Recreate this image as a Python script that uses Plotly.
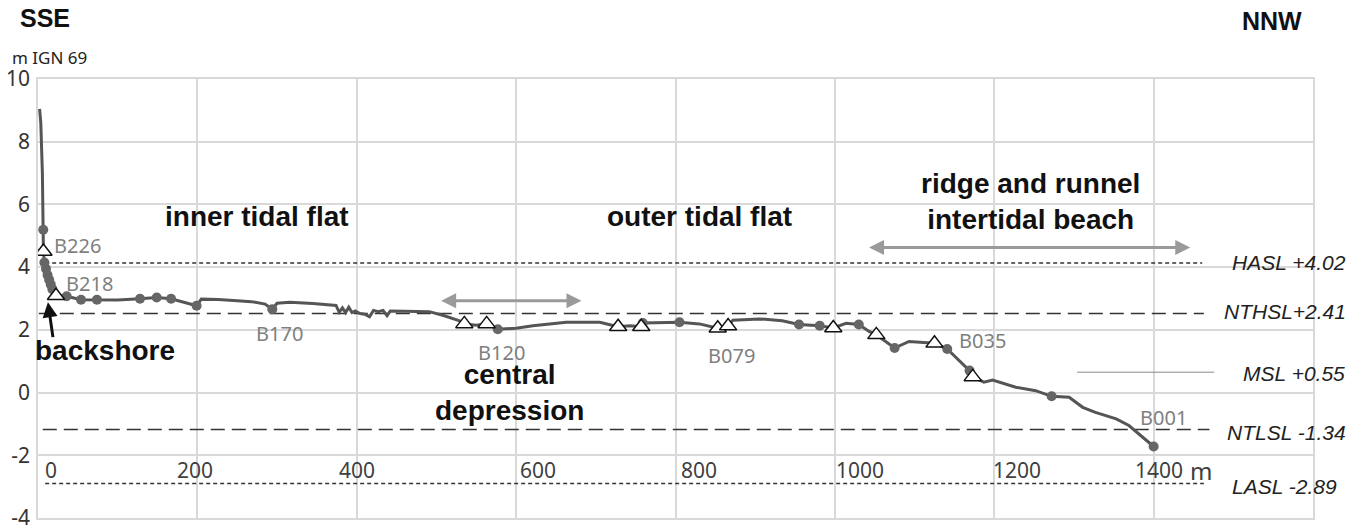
import plotly.graph_objects as go

# ---- data ----
profile_x = [2, 3.5, 5.5, 6.6, 6.8, 8, 10, 12, 14, 16, 18, 20, 22.6, 36, 54, 74, 100, 128, 149, 167,
             185, 199, 205, 226, 250, 268, 285, 294, 300, 316, 345, 374, 378, 382, 386, 390, 394, 398,
             404, 410, 416, 421, 427, 433, 438, 442, 460, 491, 510, 529, 535, 550, 563, 577, 600, 621,
             663, 705, 728, 743, 757, 759, 805, 830, 853, 862, 866, 872, 905, 934, 955, 981, 998, 1014,
             1030, 1043, 1052, 1075, 1093, 1110, 1125, 1141, 1155, 1169, 1173, 1187, 1198, 1227, 1252,
             1272, 1294, 1311, 1327, 1353, 1369, 1382, 1400]
profile_y = [9.05, 8.6, 7.0, 5.19, 4.5, 4.15, 3.95, 3.75, 3.6, 3.45, 3.3, 3.18, 3.09, 3.07, 2.96, 2.96,
             2.95, 2.99, 3.03, 2.99, 2.88, 2.77, 2.98, 2.97, 2.93, 2.9, 2.82, 2.66, 2.85, 2.88, 2.84, 2.78,
             2.56, 2.7, 2.55, 2.72, 2.55, 2.6, 2.52, 2.5, 2.42, 2.62, 2.58, 2.62, 2.45, 2.6, 2.59, 2.58,
             2.45, 2.29, 2.19, 2.15, 2.19, 2.02, 2.05, 2.13, 2.24, 2.24, 2.1, 2.13, 2.1, 2.22, 2.24, 2.19,
             2.05, 2.05, 2.12, 2.31, 2.35, 2.29, 2.17, 2.13, 2.06, 2.21, 2.17, 1.95, 1.84, 1.42, 1.63,
             1.6, 1.57, 1.39, 1.05, 0.7, 0.5, 0.33, 0.4, 0.17, 0.06, -0.12, -0.15, -0.47, -0.63, -0.84,
             -1.05, -1.32, -1.72]

circle_x = [6.6, 8, 10, 12, 14, 16, 18, 36, 54, 74, 128, 149, 167, 199, 294, 577, 759, 805, 955, 981,
            1030, 1075, 1141, 1169, 1272, 1400]
circle_y = [5.19, 4.15, 3.95, 3.75, 3.6, 3.45, 3.3, 3.07, 2.96, 2.96, 2.99, 3.03, 2.99, 2.77, 2.66, 2.02,
            2.22, 2.24, 2.17, 2.13, 2.17, 1.42, 1.39, 0.7, -0.12, -1.72]

triangle_x = [6.8, 22.6, 535, 563, 728, 757, 853, 866, 998, 1052, 1125, 1173]
triangle_y = [4.5, 3.09, 2.19, 2.19, 2.1, 2.1, 2.05, 2.12, 2.06, 1.84, 1.57, 0.5]

station_names = ["B226", "B218", "B170", "B120", "B079", "B035", "B001"]
station_lx = [50, 64, 303, 582, 870, 1185, 1412]
station_ly = [4.68, 3.47, 1.88, 1.27, 1.18, 1.66, -0.8]

level_names = ["HASL +4.02", "NTHSL+2.41", "MSL +0.55", "NTLSL -1.34", "LASL -2.89"]
level_y = [4.13, 2.52, 0.65, -1.18, -2.9]
level_x0 = [9, 1, 1304, 6, 9]
level_x1 = [1461, 1463, 1476, 1470, 1463]
level_dash = ["4px,3px", "14px,7px", "solid", "14px,7px", "4px,3px"]
level_label_y = [4.16, 2.6, 0.62, -1.26, -2.98]
level_label_px = [1.0275, 1.0275, 1.027, 1.0275, 1.0205]

ytick_vals = [-4, -2, 0, 2, 4, 6, 8, 10]
ytick_text = ["-4", "-2", "0", "2", "4", "6", "8", "10"]

xtick_vals = [0, 200, 400, 600, 800, 1000, 1200, 1400]
xtick_pos = [16, 197, 400, 627, 830, 1031, 1229, 1407]
xtick_y = -2.48

zone_texts = ["inner tidal flat", "outer tidal flat", "ridge and runnel<br>intertidal beach",
              "backshore", "central<br>depression"]
zone_x = [275, 830, 1246, 84, 592]
zone_y = [5.6, 5.6, 6.1, 1.34, 0.0]

# ---- figure ----
fig = go.Figure()

for name, y, x0, x1, d in zip(level_names, level_y, level_x0, level_x1, level_dash):
    solid = d == "solid"
    fig.add_trace(go.Scatter(
        x=[x0, x1], y=[y, y], mode="lines",
        line=dict(color="#8a8a8a" if solid else "#333333", width=1 if solid else 1.4, dash=d),
        hoverinfo="skip", showlegend=False))

fig.add_trace(go.Scatter(x=profile_x, y=profile_y, mode="lines",
                         line=dict(color="#555555", width=3), showlegend=False))
fig.add_trace(go.Scatter(x=circle_x, y=circle_y, mode="markers",
                         marker=dict(symbol="circle", size=10, color="#666666"), showlegend=False))
fig.add_trace(go.Scatter(x=triangle_x, y=triangle_y, mode="markers",
                         marker=dict(symbol="triangle-up", size=15, color="white",
                                     line=dict(color="#111111", width=1.5)), showlegend=False))

ann = []
for t, x, y in zip(station_names, station_lx, station_ly):
    ann.append(dict(x=x, y=y, xref="x", yref="y", text=t, showarrow=False, yanchor="middle",
                    font=dict(family="Noto Sans", size=20, color="#7f7f7f")))
for t, x, y in zip(zone_texts, zone_x, zone_y):
    ann.append(dict(x=x, y=y, xref="x", yref="y", text="<b>" + t + "</b>", showarrow=False,
                    yanchor="middle",
                    font=dict(family="Liberation Sans", size=28, color="#111111")))
for t, y, px in zip(level_names, level_label_y, level_label_px):
    ann.append(dict(x=px, y=y, xref="paper", yref="y", text="<i>" + t + "</i>", showarrow=False,
                    xanchor="right", yanchor="middle",
                    font=dict(family="Liberation Sans", size=21, color="#222222")))
for v, x in zip(xtick_vals, xtick_pos):
    ann.append(dict(x=x, y=xtick_y, xref="x", yref="y", text=str(v), showarrow=False,
                    yanchor="middle",
                    font=dict(family="Noto Sans", size=21, color="#404040")))
ann.append(dict(x=1460, y=xtick_y, xref="x", yref="y", text="m", showarrow=False, yanchor="middle",
                font=dict(family="Noto Sans", size=24, color="#404040")))

# arrows
ann.append(dict(x=682, y=2.93, ax=504, ay=2.93, xref="x", yref="y", axref="x", ayref="y",
                text="", showarrow=True, arrowside="end+start", arrowhead=2, arrowsize=1,
                arrowwidth=3, arrowcolor="#9a9a9a"))
ann.append(dict(x=1446, y=4.63, ax=1041, ay=4.63, xref="x", yref="y", axref="x", ayref="y",
                text="", showarrow=True, arrowside="end+start", arrowhead=2, arrowsize=1,
                arrowwidth=3, arrowcolor="#9a9a9a"))
ann.append(dict(x=12.5, y=2.88, ax=19, ay=1.72, xref="x", yref="y", axref="x", ayref="y",
                text="", showarrow=True, arrowhead=2, arrowsize=1, arrowwidth=3,
                arrowcolor="#111111"))

# header texts
ann.append(dict(x=-0.016, y=1.139, xref="paper", yref="paper", text="<b>SSE</b>", showarrow=False,
                xanchor="left", yanchor="middle",
                font=dict(family="Liberation Sans", size=25, color="#111111")))
ann.append(dict(x=0.943, y=1.132, xref="paper", yref="paper", text="<b>NNW</b>", showarrow=False,
                xanchor="left", yanchor="middle",
                font=dict(family="Liberation Sans", size=25, color="#111111")))
ann.append(dict(x=-0.022, y=1.05, xref="paper", yref="paper", text="m IGN 69", showarrow=False,
                xanchor="left", yanchor="middle",
                font=dict(family="Noto Sans", size=17, color="#222222")))

grid = "#d9d9d9"
fig.update_layout(
    width=1361, height=529,
    margin=dict(l=30, r=56, t=71, b=19, autoexpand=False),
    paper_bgcolor="white", plot_bgcolor="white",
    showlegend=False,
    annotations=ann,
    xaxis=dict(range=[0, 1600], dtick=200, tick0=0, showgrid=True, gridcolor=grid, gridwidth=1.5,
               showticklabels=False, zeroline=False, showline=True, linecolor=grid, linewidth=1.5,
               mirror=True, ticks=""),
    yaxis=dict(range=[-4, 10], tickvals=ytick_vals, ticktext=ytick_text, showgrid=True,
               gridcolor=grid, gridwidth=1.5,
               zeroline=False, showline=True, linecolor=grid, linewidth=1.5, mirror=True,
               ticks="", ticklabelstandoff=2,
               tickfont=dict(family="Noto Sans", size=21, color="#333333")),
)

fig.write_html("out.html")
